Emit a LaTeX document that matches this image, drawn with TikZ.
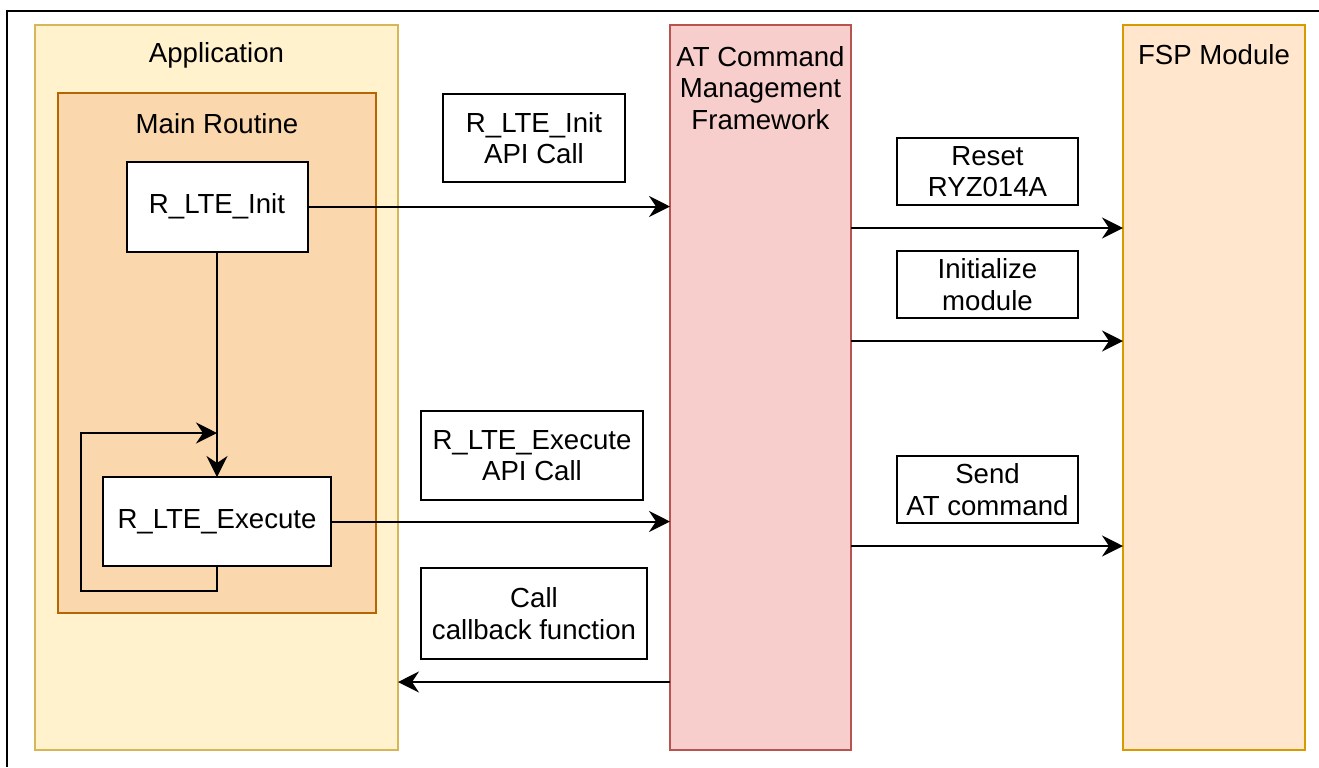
\documentclass[tikz,border=0pt]{standalone}
\usepackage{fontspec}
\setmainfont{Liberation Sans}
\usetikzlibrary{arrows.meta}
\definecolor{appfill}{HTML}{FFF2CC}
\definecolor{appdraw}{HTML}{D6B656}
\definecolor{mainfill}{HTML}{FAD7AC}
\definecolor{maindraw}{HTML}{B46504}
\definecolor{atfill}{HTML}{F8CECC}
\definecolor{atdraw}{HTML}{B85450}
\definecolor{fspfill}{HTML}{FFE6CC}
\definecolor{fspdraw}{HTML}{D79B00}
\tikzset{
  every node/.style={font=\fontsize{13.8}{15.8}\selectfont, inner sep=0pt, outer sep=0pt},
  container/.style={draw, line width=1pt, rectangle},
  funcbox/.style={draw=black, fill=white, line width=1pt, rectangle, align=center},
  lblbox/.style={draw=black, fill=white, line width=0.9pt, rectangle, align=center},
  txt/.style={align=center},
  conn/.style={line width=1pt, -{Stealth[length=10.5pt,width=10.5pt,inset=3.5pt]}},
  plain/.style={line width=1pt}
}
\begin{document}
\begin{tikzpicture}[x=0.5pt,y=-0.5pt]
\useasboundingbox (0,0) rectangle (1319,767);
% outer frame
\coordinate (fbl) at (7,767);
\coordinate (ftl) at (7,11);
\coordinate (ftr) at (1319,11);
\draw[line width=1.2pt] (fbl) -- (ftl) -- (ftr);
% containers
\node[container, draw=appdraw, fill=appfill, minimum width=181.5pt, minimum height=362.5pt] (app) at (216.5,387.5) {};
\node[txt] (applbl) at (216.5,55) {Application};
\node[container, draw=maindraw, fill=mainfill, minimum width=159pt, minimum height=260pt] (main) at (217,353) {};
\node[txt] (mainlbl) at (217,124) {Main Routine};
\node[container, draw=atdraw, fill=atfill, minimum width=90.5pt, minimum height=362.5pt] (at) at (760.5,387.5) {};
\node[txt] (atlbl) at (760.5,88) {AT Command\\Management\\Framework};
\node[container, draw=fspdraw, fill=fspfill, minimum width=91pt, minimum height=362.5pt] (fsp) at (1214,387.5) {};
\node[txt] (fsplbl) at (1214,55) {FSP Module};
% function boxes
\node[funcbox, minimum width=90.5pt, minimum height=45pt] (init) at (217,206.5) {R\_LTE\_Init};
\node[funcbox, minimum width=114pt, minimum height=44.5pt] (exec) at (217,521.5) {R\_LTE\_Execute};
% label boxes
\node[lblbox, minimum width=91pt, minimum height=44pt] (l1) at (534,138) {R\_LTE\_Init\\API Call};
\node[lblbox, minimum width=90.5pt, minimum height=33.5pt] (l2) at (987.5,171.5) {Reset\\RYZ014A};
\node[lblbox, minimum width=90.5pt, minimum height=33.5pt] (l3) at (987.5,284.5) {Initialize\\module};
\node[lblbox, minimum width=111pt, minimum height=44.5pt] (l4) at (532,455.5) {R\_LTE\_Execute\\API Call};
\node[lblbox, minimum width=90.5pt, minimum height=33.5pt] (l5) at (987.5,489.5) {Send\\AT command};
\node[lblbox, minimum width=113pt, minimum height=45.5pt] (l6) at (534,613.5) {Call\\callback function};
% connectors
\draw[conn] (init.east) -- (at.west |- init.east);
\draw[conn] (exec.east) -- (at.west |- exec.east);
\draw[conn] (at.east |- 0,228) -- (fsp.west |- 0,228);
\draw[conn] (at.east |- 0,341) -- (fsp.west |- 0,341);
\draw[conn] (at.east |- 0,546) -- (fsp.west |- 0,546);
\draw[conn] (at.west |- 0,682) -- (app.east |- 0,682);
\draw[conn] (init.south) -- (exec.north);
\coordinate (lp1) at (217,591);
\coordinate (lp2) at (81,591);
\coordinate (lp3) at (81,433);
\coordinate (lp4) at (217,433);
\draw[conn] (exec.south) -- (lp1) -- (lp2) -- (lp3) -- (lp4);
\end{tikzpicture}
\end{document}
